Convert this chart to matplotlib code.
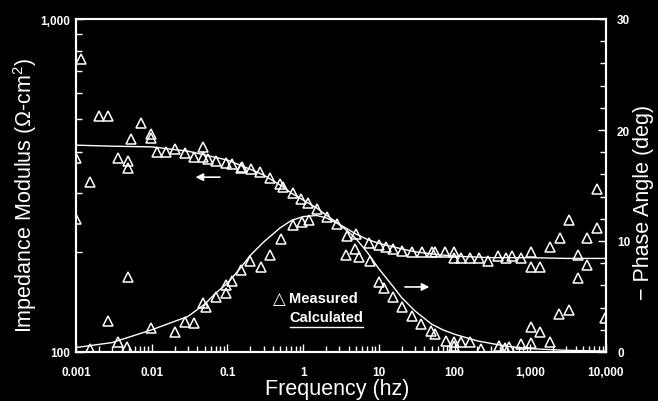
import matplotlib
matplotlib.use('Agg')
import matplotlib.pyplot as plt
from matplotlib.ticker import FixedLocator, LogLocator, NullFormatter, MultipleLocator

plt.rcParams['font.family'] = ['Liberation Sans', 'DejaVu Sans']
plt.rcParams['mathtext.fontset'] = 'custom'
plt.rcParams['mathtext.rm'] = 'Liberation Sans'

# measured impedance modulus (hz, ohm-cm2)
freq_z = [0.001, 0.00115, 0.00153, 0.00201, 0.00267, 0.00354, 0.00484, 0.00484, 0.0053, 0.00718,
          0.0097, 0.0097, 0.0116, 0.0154, 0.0203, 0.0273, 0.0359, 0.0475, 0.0475, 0.0553,
          0.0713, 0.0946, 0.116, 0.152, 0.157, 0.2065, 0.271, 0.367, 0.497, 0.538,
          0.729, 0.949, 1.16, 1.54, 2.09, 2.76, 3.75, 4.97, 7.41, 9.9,
          12.3, 15.5, 20.4, 27.3, 37, 51, 55, 75, 98, 98,
          121, 158, 210, 279, 374, 481, 577, 745, 1010, 1010,
          1337, 1795, 4276]
z_meas = [383, 759, 324, 510, 510, 383, 375, 357, 435, 486,
          452, 440, 398, 398, 407, 395, 386, 412, 385, 380,
          375, 369, 367, 357, 359, 355, 348, 333, 320, 313,
          300, 288, 280, 269, 254, 242, 223, 226, 213, 210,
          207, 204, 201, 200, 200, 200, 200, 200, 200, 192,
          192, 192, 192, 188, 194, 192, 194, 191, 200, 180,
          180, 207, 196]

# measured phase angle (hz, deg)
freq_p = [0.001, 0.00153, 0.00267, 0.00354, 0.00474, 0.0048, 0.0097, 0.0203, 0.0273, 0.0359,
          0.0475, 0.0525, 0.0713, 0.0946, 0.0946, 0.116, 0.152, 0.196, 0.274, 0.368,
          0.512, 0.731, 0.97, 1.19, 3.68, 4.9, 5.52, 7.64, 9.9, 11.75,
          15.5, 20.4, 27.3, 35.5, 48.5, 55, 76.6, 98, 98, 121,
          160, 221, 386, 462, 522, 745, 1010, 1010, 1337, 1795,
          2382, 2432, 3226, 3226, 4276, 5623, 5623, 7621, 7621, 9620]
phase_meas = [12.0, 0.27, 2.82, 0.87, 0.48, 6.73, 2.16, 1.77, 2.73, 2.61,
              4.41, 4.08, 4.93, 5.29, 6.04, 6.42, 7.39, 8.2, 7.63, 8.77,
              10.2, 11.4, 11.7, 11.9, 8.74, 9.28, 8.53, 8.17, 6.28, 5.74,
              4.93, 4.03, 3.27, 2.52, 1.86, 1.62, 1.02, 0.87, 0.57, 0.93,
              0.93, 0.27, 0.57, 0.36, 0.42, 0.72, 0.81, 2.28, 1.77, 0.93,
              3.42, 10.3, 3.81, 11.9, 6.67, 10.3, 7.84, 11.2, 14.7, 3.04]

# calculated curves
calc_freq_z = [0.001, 0.003, 0.01, 0.03, 0.1, 0.2, 0.3, 0.5, 0.7, 1, 1.5, 2, 3, 5, 7, 10, 20, 30, 50, 100,
               300, 1000, 3000, 10000]
z_calc = [418, 415, 413, 401, 377, 354, 340, 317, 300, 286, 271, 258, 242, 226, 218, 212, 204, 200, 197, 194,
          192, 192, 191, 191]
calc_freq_p = [0.001, 0.003, 0.01, 0.03, 0.05, 0.07, 0.1, 0.15, 0.2, 0.3, 0.5, 0.7, 1, 1.5, 2, 3, 4, 5, 7, 10,
               15, 20, 30, 50, 70, 100, 200, 500, 1000, 3000, 10000]
phase_calc = [0.4, 0.85, 2.0, 3.2, 4.3, 5.3, 6.2, 7.6, 8.7, 9.9, 11.2, 11.85, 12.2, 12.3, 12.1, 11.5, 10.8, 10.2, 9.0, 7.5,
              6.0, 4.9, 3.7, 2.5, 2.0, 1.6, 1.0, 0.5, 0.3, 0.15, 0.08]

x_ticks = [0.001, 0.01, 0.1, 1, 10, 100, 1000, 10000]
x_labels = ['0.001', '0.01', '0.1', '1', '10', '100', '1,000', '10,000']

fig = plt.figure(figsize=(6.58, 4.02), dpi=100, facecolor='black')
ax = fig.add_axes([76 / 658, 49 / 402, 530 / 658, 333 / 402], facecolor='black')
ax2 = ax.twinx()

ax.set_xscale('log')
ax.set_yscale('log')
ax.set_xlim(0.001, 10000)
ax.set_ylim(100, 1000)
ax2.set_ylim(0, 30)

mk = dict(linestyle='none', marker='^', markersize=6.8, markerfacecolor='none',
          markeredgecolor='white', markeredgewidth=1.1)
ax.plot(calc_freq_z, z_calc, color='white', lw=1.0)
ax.plot(freq_z, z_meas, **mk)
ax2.plot(calc_freq_p, phase_calc, color='white', lw=1.0)
ax2.plot(freq_p, phase_meas, **mk)

# ticks
ax.xaxis.set_major_locator(FixedLocator(x_ticks))
ax.set_xticklabels(x_labels)
ax.xaxis.set_minor_locator(LogLocator(base=10, subs=range(2, 10), numticks=20))
ax.xaxis.set_minor_formatter(NullFormatter())
ax.yaxis.set_major_locator(FixedLocator([100, 1000]))
ax.set_yticklabels(['100', '1,000'])
ax.yaxis.set_minor_locator(LogLocator(base=10, subs=range(2, 10), numticks=20))
ax.yaxis.set_minor_formatter(NullFormatter())
ax2.yaxis.set_major_locator(FixedLocator([0, 10, 20, 30]))
ax2.yaxis.set_minor_locator(MultipleLocator(2))

for a in (ax, ax2):
    a.tick_params(which='both', direction='in', colors='white', labelcolor='white', width=1.0)
    a.tick_params(which='major', length=6, labelsize=8.5)
    a.tick_params(which='minor', length=4)
    for s in a.spines.values():
        s.set_color('white')
        s.set_linewidth(1.5)
ax.tick_params(axis='x', pad=10)
ax.tick_params(axis='y', pad=4)
ax2.tick_params(axis='y', pad=8)
for lab in ax.get_xticklabels() + ax.get_yticklabels() + ax2.get_yticklabels():
    lab.set_fontweight('bold')

# axis titles
fig.text(337.5 / 658, 1 - 390 / 402, 'Frequency (hz)', color='white', fontsize=15.5,
         ha='center', va='center')
fig.text(25 / 658, 1 - 195 / 402, 'Impedance Modulus (Ω-cm$\\mathregular{^2}$)', color='white',
         fontsize=15.5, rotation=90, ha='center', va='center')
fig.text(643 / 658, 1 - 202 / 402, '− Phase Angle (deg)', color='white', fontsize=15.5,
         rotation=90, ha='center', va='center')

# direction arrows
ax.annotate('', xy=(0.0348, 335), xytext=(0.0865, 335),
            arrowprops=dict(arrowstyle='-|>', color='white', lw=1.2, mutation_scale=11))
ax2.annotate('', xy=(50.6, 5.86), xytext=(20.3, 5.86),
             arrowprops=dict(arrowstyle='-|>', color='white', lw=1.2, mutation_scale=11))

# legend
ax.text(0.383, 0.162, '△', transform=ax.transAxes, color='white', fontsize=12,
        family='DejaVu Sans', ha='center', va='center')
ax.text(0.402, 0.162, 'Measured', transform=ax.transAxes, color='white', fontsize=10.5,
        fontweight='bold', ha='left', va='center')
ax.text(0.402, 0.106, 'Calculated', transform=ax.transAxes, color='white', fontsize=10.5,
        fontweight='bold', ha='left', va='center')
ax.plot([0.404, 0.5415], [0.074, 0.074], transform=ax.transAxes, color='white', lw=1.0)

fig.savefig('out.png', dpi=100, facecolor='black')
